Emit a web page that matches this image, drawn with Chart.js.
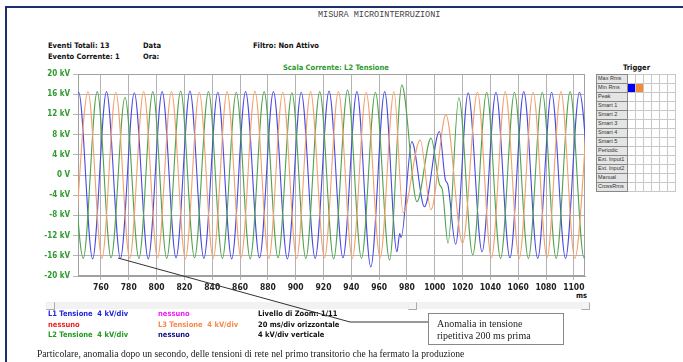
<!DOCTYPE html>
<html>
<head>
<meta charset="utf-8">
<script src="https://cdn.jsdelivr.net/npm/chart.js@4.4.1/dist/chart.umd.min.js"></script>
<style>
  body { margin: 0; width: 683px; height: 362px; overflow: hidden; background: #fff; position: relative;
         font-family: "Liberation Sans Narrow", "DejaVu Sans Condensed", "Liberation Sans", sans-serif; }
  .t { position: absolute; white-space: nowrap; font-weight: bold; font-size: 7.5px; line-height: 1; color: #111; }
  #frame { position: absolute; left: 5px; top: 6px; width: 700px; height: 400px;
           border-top: 2px solid #1d2f70; border-left: 2px solid #1d2f70; }
  #title { position: absolute; left: 318px; top: 10px; font-family: "Liberation Mono", monospace;
           font-size: 8.5px; color: #444; white-space: nowrap; }
  #chart { position: absolute; left: 0; top: 0; }
  #trigger { position: absolute; left: 596px; top: 74px; border-collapse: collapse; }
  #trigger td { height: 8px; padding: 0; border: 1px solid #c8c8c8; font-size: 5.5px; line-height: 1;
                font-family: "Liberation Sans", sans-serif; color: #333; }
  #trigger td.lab { width: 29px; background: #e4e4e4; border: 1px solid #888; padding-left: 1px; }
  #trigger td.c { width: 7px; }
  #scroll { position: absolute; left: 46px; top: 302px; width: 544px; height: 7px; background: #f2f2f2; }
  .btn { position: absolute; top: 0; width: 7px; height: 6px; border: 1px solid #aaa; border-top-color: #eee; border-left-color: #eee; background: #f4f4f4; }
  #note { position: absolute; left: 428px; top: 313px; width: 136px; height: 32px; border: 1px solid #888;
          font-family: "Liberation Serif", serif; font-size: 10px; line-height: 12px; color: #222; padding: 4px 0 0 8px; box-sizing: border-box; }
  #caption { position: absolute; left: 37px; top: 348px; font-family: "Liberation Serif", serif; font-size: 9.6px; color: #222; white-space: nowrap; }
  svg { position: absolute; left: 0; top: 0; }
</style>
</head>
<body>
<div id="frame"></div>
<div id="title">MISURA MICROINTERRUZIONI</div>

<div class="t" style="left:48px;top:42px">Eventi Totali: 13</div>
<div class="t" style="left:48px;top:53px">Evento Corrente: 1</div>
<div class="t" style="left:143px;top:42px">Data</div>
<div class="t" style="left:143px;top:53px">Ora:</div>
<div class="t" style="left:253px;top:42px">Filtro: Non Attivo</div>
<div class="t" style="left:283px;top:64px;color:#2f9a2f">Scala Corrente: L2 Tensione</div>
<div class="t" style="left:623px;top:64px">Trigger</div>
<div class="t" style="left:576px;top:292px">ms</div>

<canvas id="chart" width="683" height="362"></canvas>

<table id="trigger"></table>

<div id="scroll">
  <div class="btn" style="left:0"></div>
  <div class="btn" style="left:362px"></div>
  <div class="btn" style="right:0"></div>
</div>

<div class="t" style="left:48px;top:310px;color:#2424e0">L1 Tensione &nbsp;4 kV/div</div>
<div class="t" style="left:48px;top:321px;color:#f02020">nessuno</div>
<div class="t" style="left:48px;top:331px;color:#1f9a1f">L2 Tensione &nbsp;4 kV/div</div>
<div class="t" style="left:158px;top:310px;color:#f020f0">nessuno</div>
<div class="t" style="left:158px;top:321px;color:#f58a4a">L3 Tensione &nbsp;4 kV/div</div>
<div class="t" style="left:158px;top:331px;color:#101080">nessuno</div>
<div class="t" style="left:258px;top:310px">Livello di Zoom: 1/11</div>
<div class="t" style="left:258px;top:321px">20 ms/div orizzontale</div>
<div class="t" style="left:258px;top:331px">4 kV/div verticale</div>

<div id="note">Anomalia in tensione<br>ripetitiva 200 ms prima</div>
<div id="caption">Particolare, anomalia dopo un secondo, delle tensioni di rete nel primo transitorio che ha fermato la produzione</div>

<svg width="683" height="362">
  <polyline points="118,258 350,322 428,322" fill="none" stroke="#333" stroke-width="1"/>
</svg>

<script>
// tick labels
const msTicks = [760, 780, 800, 820, 840, 860, 880, 900, 920, 940, 960, 980, 1000, 1020, 1040, 1060, 1080, 1100];
const kvTicks = [20, 16, 12, 8, 4, 0, -4, -8, -12, -16, -20];

// peaks and troughs: [ms, kV]
const l1Tensione = [
  [734, -16.4], [744, 16.4], [754, -16.6], [764, 16.5], [774, -16.5], [784, 16.3], [794, -16.6],
  [804, 16.5], [814, -16.4], [824, 16.6], [834, -16.5], [844, 16.4], [854, -16.6], [864, 16.5],
  [874, -16.4], [884, 16.5], [894, -16.6], [904, 16.4], [914, -16.5], [924, 16.6], [934, -16.4],
  [944, 16.5], [954, -18.2], [964, 16.5], [972.8, -15.2], [974.8, -11.6], [975.8, -12.4],
  [983.5, 6.6], [992.6, -6.3], [1003.3, 8.6], [1007.5, -0.8], [1009.5, -2.0], [1015, -13.7],
  [1024, 16.3], [1034, -15.2], [1044, 16.4], [1054, -16.4], [1064, 16.5], [1074, -16.5],
  [1084, 16.4], [1094, -16.5], [1104, 16.4], [1114, -16.4]
];
const l2Tensione = [
  [737.3, 16.4], [747.3, -16.5], [757.3, 16.5], [767.3, -16.4], [777.3, 15.4], [787.3, -16.5],
  [797.3, 16.5], [807.3, -16.5], [817.3, 16.6], [827.3, -16.4], [837.3, 16.5], [847.3, -16.5],
  [857.3, 16.4], [867.3, -16.6], [877.3, 16.5], [887.3, -16.4], [897.3, 16.3], [907.3, -16.5],
  [917.3, 16.5], [927.3, -16.6], [937.3, 16.8], [947.3, -16.5], [957.3, 16.4], [967.5, -16.8],
  [976.3, 17.8], [987.2, -5.3], [997.3, 7.3], [1003.3, -1.8], [1005.5, -3.0], [1009.5, -13.5],
  [1017.3, 15.3], [1027.3, -15.8], [1037.3, 16.4], [1047.3, -16.5], [1057.3, 16.4], [1067.3, -16.5],
  [1077.3, 16.4], [1087.3, -16.5], [1097.3, 16.5], [1107.3, -16.4], [1117.3, 16.4]
];
const l3Tensione = [
  [740.7, -16.4], [750.7, 16.5], [760.7, -16.5], [770.7, 16.4], [780.7, -16.5], [790.7, 16.5],
  [800.7, -16.4], [810.7, 16.5], [820.7, -16.6], [830.7, 16.4], [840.7, -16.5], [850.7, 16.5],
  [860.7, -16.4], [870.7, 16.6], [880.7, -16.5], [890.7, 16.4], [900.7, -16.5], [910.7, 16.5],
  [920.7, -16.4], [930.7, 16.5], [940.7, -16.5], [950.7, 16.4], [960.7, -16.4], [970.7, 16.5],
  [977.2, -7.5], [989.5, 6.9], [997.3, -6.9], [1008, 11.9], [1020, -13.5], [1030.7, 16.4],
  [1040.7, -16.4], [1050.7, 16.5], [1060.7, -16.5], [1070.7, 16.4], [1080.7, -16.4],
  [1090.7, 16.5], [1100.7, -16.5], [1110.7, 16.4]
];

const triggerRows = ["Max Rms", "Min Rms", "Peak", "Smart 1", "Smart 2", "Smart 3", "Smart 4",
  "Smart 5", "Periodic", "Ext. Input1", "Ext. Input2", "Manual", "CrossRms"];

// trigger grid
const table = document.getElementById("trigger");
triggerRows.forEach((name, i) => {
  let cells = `<td class="lab">${name}</td>`;
  for (let c = 0; c < 6; c++) {
    let bg = "";
    if (i === 1 && c === 0) bg = ' style="background:#0000f0"';
    if (i === 1 && c === 1) bg = ' style="background:#f58a3a"';
    cells += `<td class="c"${bg}></td>`;
  }
  table.innerHTML += `<tr>${cells}</tr>`;
});

const toPoints = arr => arr.map(p => ({ x: p[0], y: p[1] }));

// gray box round the plot area
const plotFrame = {
  id: "plotFrame",
  beforeDatasetsDraw(chart) {
    const a = chart.chartArea;
    const ctx = chart.ctx;
    ctx.save();
    ctx.strokeStyle = "#a0a0a0";
    ctx.lineWidth = 1;
    ctx.strokeRect(a.left + 0.5, a.top + 0.5, a.right - a.left - 1, a.bottom - a.top - 1);
    ctx.restore();
  }
};

const tickFont = size => ({ family: "'Liberation Sans Narrow', 'DejaVu Sans Condensed', sans-serif", size: size, weight: "bold" });

new Chart(document.getElementById("chart"), {
  type: "line",
  data: {
    datasets: [
      { label: "L3 Tensione", data: toPoints(l3Tensione), borderColor: "#f3a06c" },
      { label: "L2 Tensione", data: toPoints(l2Tensione), borderColor: "#4ea24e" },
      { label: "L1 Tensione", data: toPoints(l1Tensione), borderColor: "#4848e4" }
    ]
  },
  options: {
    responsive: false,
    animation: false,
    layout: { padding: { left: 10, right: 98, top: 74, bottom: 66 } },
    elements: {
      point: { radius: 0 },
      line: { borderWidth: 1.1, cubicInterpolationMode: "monotone" }
    },
    plugins: { legend: { display: false }, tooltip: { enabled: false } },
    scales: {
      x: {
        type: "linear",
        min: 743.5,
        max: 1108,
        afterBuildTicks: axis => { axis.ticks = msTicks.map(v => ({ value: v })); },
        afterFit: axis => { axis.height = 20; },
        grid: { color: "#b4b4b4", tickLength: 4 },
        border: { color: "#a0a0a0" },
        ticks: {
          padding: 3,
          maxRotation: 0,
          color: "#222",
          font: tickFont(8.5),
          callback: v => String(v)
        }
      },
      y: {
        min: -20,
        max: 20,
        afterBuildTicks: axis => { axis.ticks = kvTicks.map(v => ({ value: v })); },
        afterFit: axis => { axis.width = 68; },
        grid: { color: "#b4b4b4", tickLength: 5 },
        border: { color: "#a0a0a0" },
        ticks: {
          padding: 3,
          color: "#2f9a2f",
          font: tickFont(8),
          callback: v => v === 0 ? "0 V" : v + " kV"
        }
      }
    }
  },
  plugins: [plotFrame]
});
</script>
</body>
</html>
